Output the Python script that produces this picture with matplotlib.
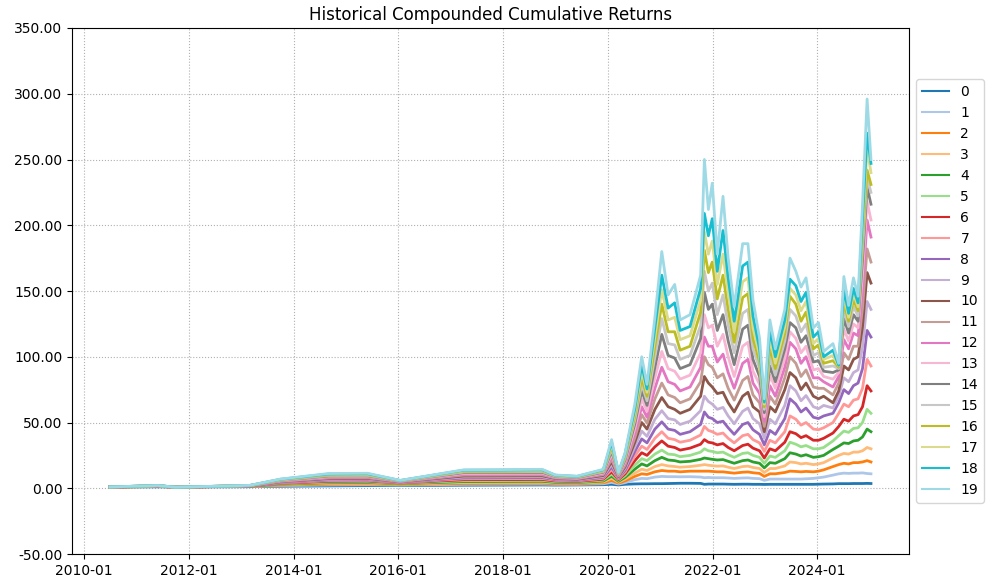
import matplotlib
matplotlib.use("Agg")
import matplotlib.pyplot as plt
import matplotlib.dates as mdates
from matplotlib.ticker import FuncFormatter, MultipleLocator
import pandas as pd

dates = ["2010-07-01", "2011-06-01", "2011-10-01", "2013-03-01", "2013-10-01", "2014-09-01",
         "2015-06-01", "2016-01-15", "2017-04-01", "2018-01-15", "2018-10-01", "2019-01-01",
         "2019-06-01", "2019-12-01", "2020-01-28", "2020-03-16", "2020-05-01", "2020-07-08",
         "2020-08-25", "2020-10-01", "2020-11-25", "2021-01-12", "2021-02-25", "2021-04-12",
         "2021-05-20", "2021-07-28", "2021-10-10", "2021-11-05", "2021-12-03", "2021-12-30",
         "2022-02-03", "2022-03-15", "2022-04-20", "2022-06-01", "2022-07-30", "2022-09-05",
         "2022-10-10", "2022-11-25", "2022-12-28", "2023-02-05", "2023-03-15", "2023-05-20",
         "2023-06-25", "2023-08-05", "2023-09-10", "2023-10-15", "2023-12-05", "2024-01-10",
         "2024-02-15", "2024-04-20", "2024-05-30", "2024-07-05", "2024-08-07", "2024-09-10",
         "2024-10-12", "2024-11-12", "2024-12-14", "2025-01-10"]

series_0 = [1.0, 1.1, 1.0, 1.2, 1.5, 1.8, 2.0, 2.0, 2.3, 2.4,
            2.5, 2.4, 2.5, 2.7, 3.0, 2.5, 3.0, 3.3, 3.4, 3.4,
            3.5, 3.5, 3.6, 3.7, 3.8, 3.8, 3.7, 3.0, 3.2, 3.2,
            3.2, 3.2, 3.1, 3.0, 3.1, 3.1, 3.0, 3.0, 2.9, 3.0,
            3.0, 3.0, 3.0, 3.0, 3.0, 3.0, 3.0, 3.1, 3.2, 3.3,
            3.5, 3.5, 3.5, 3.6, 3.6, 3.6, 3.7, 3.6]
series_1 = [1.0, 1.2, 1.0, 1.3, 2.0, 2.5, 2.7, 2.4, 3.0, 3.1,
            3.2, 3.0, 3.0, 3.4, 4.5, 3.2, 4.3, 6.5, 7.5, 7.3,
            8.5, 9.0, 8.8, 8.8, 8.7, 8.8, 8.5, 8.0, 8.2, 8.0,
            8.0, 8.0, 7.8, 7.5, 7.8, 7.9, 7.5, 7.3, 6.0, 7.0,
            7.0, 7.0, 7.0, 7.0, 7.0, 7.2, 7.5, 8.0, 8.5, 10.0,
            11.0, 11.5, 11.3, 11.5, 11.5, 11.7, 11.2, 11.0]
series_2 = [1.0, 1.3, 1.0, 1.4, 2.4, 3.1, 3.3, 2.8, 3.7, 3.8,
            3.9, 3.5, 3.5, 4.1, 6.0, 3.9, 5.6, 9.0, 11.0, 10.5,
            12.5, 13.5, 13.0, 13.0, 12.5, 13.0, 13.0, 13.0, 13.0, 12.8,
            12.5, 12.5, 12.0, 11.5, 12.2, 12.4, 11.8, 11.3, 9.0, 11.0,
            11.0, 12.0, 13.0, 12.8, 12.5, 12.8, 12.5, 13.0, 14.0, 16.5,
            18.0, 19.0, 18.5, 19.5, 19.5, 20.0, 21.0, 20.0]
series_3 = [1.0, 1.4, 1.0, 1.5, 2.8, 3.7, 3.9, 3.1, 4.4, 4.5,
            4.6, 4.0, 4.0, 4.8, 7.6, 4.6, 7.0, 11.5, 14.5, 13.5,
            16.5, 18.0, 17.0, 16.5, 16.0, 16.5, 17.5, 18.0, 17.5, 17.2,
            16.8, 17.0, 16.0, 15.0, 16.5, 16.8, 15.8, 15.0, 12.0, 15.0,
            15.0, 17.0, 20.0, 19.5, 18.5, 19.0, 18.0, 18.5, 19.5, 23.0,
            25.0, 26.5, 26.0, 27.5, 27.5, 28.5, 31.0, 30.0]
series_4 = [1.0, 1.4, 1.0, 1.5, 3.1, 4.2, 4.4, 3.4, 5.1, 5.2,
            5.3, 4.5, 4.4, 5.5, 9.2, 5.3, 8.3, 14.5, 18.5, 17.0,
            21.0, 23.5, 21.5, 21.0, 20.0, 20.5, 22.0, 23.0, 22.5, 22.0,
            21.5, 21.8, 20.5, 19.0, 21.0, 21.5, 20.0, 19.0, 15.5, 19.5,
            19.0, 22.5, 27.0, 26.0, 24.5, 25.5, 23.5, 24.0, 25.0, 29.5,
            32.0, 34.5, 34.0, 36.0, 36.5, 39.0, 45.0, 43.0]
series_5 = [1.0, 1.5, 1.0, 1.6, 3.4, 4.7, 4.9, 3.7, 5.8, 5.9,
            6.0, 5.0, 4.8, 6.2, 10.8, 6.0, 9.6, 17.5, 22.5, 21.0,
            26.0, 29.0, 26.0, 25.5, 24.0, 25.0, 27.5, 30.0, 28.5, 28.0,
            27.0, 27.5, 25.5, 23.5, 26.5, 27.0, 25.0, 23.5, 19.0, 24.5,
            23.5, 28.5, 35.0, 33.5, 31.5, 32.5, 30.0, 30.0, 31.0, 36.0,
            40.0, 43.5, 42.5, 45.5, 46.0, 50.0, 60.0, 57.0]
series_6 = [1.0, 1.5, 0.9, 1.6, 3.7, 5.3, 5.5, 4.0, 6.5, 6.6,
            6.7, 5.5, 5.2, 6.9, 12.5, 6.6, 11.0, 21.0, 27.0, 25.0,
            31.5, 36.0, 32.0, 31.0, 29.0, 30.5, 33.5, 37.0, 35.0, 34.5,
            33.0, 34.0, 31.0, 28.5, 32.5, 33.5, 30.5, 28.5, 23.0, 30.0,
            28.5, 35.0, 43.0, 41.5, 38.5, 40.0, 36.5, 36.5, 38.0, 42.0,
            47.0, 52.5, 51.0, 55.0, 56.0, 62.0, 78.0, 74.0]
series_7 = [1.0, 1.6, 0.9, 1.7, 4.0, 5.8, 6.0, 4.2, 7.2, 7.3,
            7.4, 6.0, 5.6, 7.6, 14.3, 7.2, 12.3, 24.5, 32.0, 29.5,
            38.0, 43.0, 38.0, 37.0, 35.0, 36.5, 40.5, 47.0, 44.0, 43.0,
            41.0, 42.0, 38.0, 34.5, 40.0, 41.0, 37.0, 34.5, 28.0, 36.5,
            34.5, 43.0, 55.0, 52.5, 48.0, 50.0, 45.0, 44.5, 46.0, 50.0,
            57.0, 64.0, 62.0, 67.0, 68.0, 76.0, 98.0, 93.0]
series_8 = [1.0, 1.6, 0.9, 1.7, 4.3, 6.3, 6.5, 4.4, 7.9, 8.0,
            8.1, 6.5, 6.0, 8.3, 16.2, 7.8, 13.6, 28.0, 37.5, 34.5,
            45.0, 50.5, 45.0, 44.0, 41.0, 43.0, 48.5, 58.0, 54.0, 53.0,
            50.0, 51.0, 46.0, 41.0, 48.5, 50.0, 44.5, 41.0, 33.0, 44.0,
            41.0, 53.0, 68.0, 64.0, 58.0, 61.0, 54.0, 53.0, 55.0, 57.0,
            65.0, 75.0, 72.0, 78.0, 80.0, 91.0, 120.0, 115.0]
series_9 = [1.0, 1.7, 0.9, 1.8, 4.6, 6.8, 7.0, 4.6, 8.6, 8.7,
            8.8, 7.0, 6.4, 9.0, 18.2, 8.3, 15.0, 31.5, 43.5, 39.5,
            52.5, 59.0, 53.0, 52.0, 48.5, 51.0, 59.0, 70.0, 66.0, 64.0,
            60.0, 61.5, 55.0, 49.0, 58.5, 61.0, 53.0, 49.0, 38.0, 52.5,
            49.0, 63.0, 78.0, 74.0, 66.5, 70.5, 62.0, 60.5, 63.0, 61.0,
            70.0, 84.0, 81.0, 88.0, 90.0, 107.0, 142.0, 136.0]
series_10 = [1.0, 1.7, 0.9, 1.8, 4.9, 7.3, 7.5, 4.8, 9.3, 9.4,
             9.5, 7.4, 6.8, 9.7, 20.2, 8.8, 16.3, 35.0, 50.0, 45.0,
             60.0, 69.0, 62.0, 60.0, 57.0, 60.0, 70.0, 85.0, 80.0, 77.0,
             72.0, 73.0, 65.0, 58.0, 70.0, 73.0, 62.0, 58.0, 43.0, 62.0,
             58.0, 75.0, 88.0, 84.0, 75.0, 80.0, 70.0, 68.0, 70.0, 65.0,
             74.0, 93.0, 90.0, 98.0, 100.0, 123.0, 164.0, 156.0]
series_11 = [1.0, 1.8, 0.9, 1.9, 5.2, 7.8, 8.0, 5.0, 10.0, 10.1,
             10.2, 7.8, 7.2, 10.4, 22.2, 9.3, 17.6, 38.5, 56.0, 49.5,
             68.0, 80.0, 71.0, 69.0, 65.0, 68.0, 81.0, 100.0, 94.0, 92.0,
             84.0, 87.0, 76.0, 67.0, 82.0, 85.0, 71.0, 65.0, 47.0, 70.0,
             64.0, 84.0, 100.0, 95.0, 85.0, 90.0, 77.0, 76.0, 76.0, 71.0,
             80.0, 103.0, 98.0, 108.0, 108.0, 137.0, 182.0, 172.0]
series_12 = [1.0, 1.8, 0.9, 1.9, 5.5, 8.3, 8.5, 5.2, 10.7, 10.8,
             10.9, 8.2, 7.5, 11.0, 24.2, 9.8, 19.0, 42.0, 62.0, 54.0,
             76.0, 92.0, 81.0, 79.0, 74.0, 77.0, 92.0, 115.0, 108.0, 108.0,
             96.0, 102.0, 88.0, 76.0, 95.0, 98.0, 80.0, 72.0, 51.0, 78.0,
             70.0, 92.0, 111.0, 106.0, 95.0, 100.0, 84.0, 84.0, 81.0, 77.0,
             85.0, 113.0, 106.0, 118.0, 116.0, 151.0, 204.0, 191.0]
series_13 = [1.0, 1.9, 0.9, 2.0, 5.8, 8.8, 9.0, 5.4, 11.3, 11.4,
             11.5, 8.6, 7.8, 11.6, 26.2, 10.2, 20.3, 45.5, 68.0, 58.5,
             84.0, 104.0, 91.0, 89.0, 83.0, 86.0, 103.0, 132.0, 122.0, 124.0,
             108.0, 117.0, 100.0, 85.0, 108.0, 111.0, 89.0, 79.0, 54.5, 86.0,
             76.0, 99.0, 119.0, 114.0, 103.0, 108.0, 90.0, 91.0, 85.0, 83.0,
             88.0, 121.0, 112.0, 125.0, 122.0, 163.0, 218.0, 204.0]
series_14 = [1.0, 1.9, 0.8, 2.0, 6.0, 9.3, 9.4, 5.5, 11.9, 12.0,
             12.1, 8.9, 8.1, 12.2, 28.2, 10.6, 21.6, 49.0, 74.0, 63.0,
             92.0, 117.0, 101.0, 99.0, 91.0, 94.0, 114.0, 149.0, 136.0, 140.0,
             120.0, 132.0, 112.0, 94.0, 121.0, 124.0, 98.0, 85.0, 57.5, 93.0,
             81.0, 106.0, 126.0, 122.0, 111.0, 116.0, 96.0, 97.0, 89.0, 88.0,
             90.0, 129.0, 118.0, 132.0, 127.0, 174.0, 229.0, 216.0]
series_15 = [1.0, 2.0, 0.8, 2.0, 6.2, 9.7, 9.8, 5.6, 12.4, 12.5,
             12.7, 9.2, 8.4, 12.7, 30.0, 11.0, 22.9, 52.0, 79.0, 66.5,
             100.0, 129.0, 110.0, 109.0, 98.0, 101.0, 124.0, 165.0, 150.0, 156.0,
             132.0, 147.0, 124.0, 103.0, 133.0, 136.0, 106.0, 91.0, 60.0, 100.0,
             86.0, 112.0, 136.0, 131.0, 119.0, 125.0, 101.0, 103.0, 92.0, 93.0,
             91.0, 136.0, 123.0, 138.0, 131.0, 183.0, 236.0, 225.0]
series_16 = [1.0, 2.0, 0.8, 2.1, 6.4, 10.1, 10.2, 5.7, 12.9, 13.0,
             13.2, 9.5, 8.6, 13.2, 31.8, 11.3, 24.1, 55.0, 84.0, 70.0,
             108.0, 140.0, 119.0, 119.0, 105.0, 108.0, 134.0, 181.0, 164.0, 172.0,
             144.0, 162.0, 136.0, 111.0, 145.0, 148.0, 114.0, 96.0, 62.0, 107.0,
             91.0, 118.0, 146.0, 140.0, 127.0, 134.0, 106.0, 109.0, 95.0, 97.0,
             92.0, 142.0, 127.0, 143.0, 135.0, 191.0, 242.0, 231.0]
series_17 = [1.0, 2.0, 0.8, 2.1, 6.6, 10.5, 10.6, 5.8, 13.3, 13.4,
             13.6, 9.7, 8.8, 13.6, 33.4, 11.6, 25.2, 58.0, 89.0, 73.0,
             115.0, 151.0, 128.0, 130.0, 113.0, 116.0, 143.0, 195.0, 178.0, 188.0,
             155.0, 178.0, 148.0, 119.0, 157.0, 160.0, 122.0, 101.0, 64.0, 114.0,
             95.0, 123.0, 152.0, 147.0, 135.0, 142.0, 110.0, 114.0, 98.0, 101.0,
             93.0, 147.0, 130.0, 148.0, 138.0, 198.0, 258.0, 240.0]
series_18 = [1.0, 2.1, 0.8, 2.1, 6.8, 10.8, 11.0, 5.9, 13.7, 13.8,
             14.0, 9.9, 9.0, 14.0, 35.0, 11.9, 26.2, 60.5, 94.0, 75.5,
             122.0, 162.0, 137.0, 141.0, 120.0, 123.0, 152.0, 209.0, 192.0, 205.0,
             165.0, 196.0, 160.0, 127.0, 169.0, 172.0, 131.0, 106.0, 65.5, 120.0,
             100.0, 128.0, 159.0, 154.0, 142.0, 149.0, 115.0, 119.0, 100.0, 105.0,
             93.5, 152.0, 133.0, 152.0, 141.0, 205.0, 270.0, 247.0]
series_19 = [1.0, 2.1, 0.8, 2.2, 7.0, 11.2, 11.4, 6.0, 14.0, 14.2,
             14.4, 10.1, 9.2, 14.4, 37.0, 12.0, 27.0, 64.0, 100.0, 79.0,
             130.0, 180.0, 147.0, 155.0, 128.0, 132.0, 162.0, 250.0, 212.0, 232.0,
             178.0, 222.0, 175.0, 138.0, 186.0, 186.0, 143.0, 114.0, 68.0, 128.0,
             106.0, 136.0, 175.0, 165.0, 153.0, 160.0, 122.0, 126.0, 104.0, 110.0,
             95.0, 161.0, 139.0, 160.0, 146.0, 216.0, 296.0, 250.0]

all_series = [series_0, series_1, series_2, series_3, series_4, series_5, series_6,
              series_7, series_8, series_9, series_10, series_11, series_12, series_13,
              series_14, series_15, series_16, series_17, series_18, series_19]
labels = [str(i) for i in range(20)]

x = pd.to_datetime(dates)

fig = plt.figure(figsize=(10.06, 5.87), dpi=100)
ax = fig.add_axes([0.0716, 0.0562, 0.8320, 0.8961])
cmap = plt.get_cmap("tab20")
for i, (vals, lab) in enumerate(zip(all_series, labels)):
    ax.plot(x, vals, color=cmap(i), linewidth=2.0, label=lab)

ax.set_title("Historical Compounded Cumulative Returns", fontsize=12)
ax.set_ylim(-50, 350)
ax.yaxis.set_major_locator(MultipleLocator(50))
ax.yaxis.set_major_formatter(FuncFormatter(lambda v, p: f"{v:.2f}"))
ax.xaxis.set_major_locator(mdates.YearLocator(2, month=1, day=1))
ax.xaxis.set_major_formatter(mdates.DateFormatter("%Y-%m"))
ax.grid(True, linestyle=":", color="#b0b0b0", linewidth=0.8)
leg = ax.legend(loc="center left", bbox_to_anchor=(1.0, 0.5))
for h in leg.get_lines():
    h.set_linewidth(1.5)

fig.savefig("out.png", dpi=100)
